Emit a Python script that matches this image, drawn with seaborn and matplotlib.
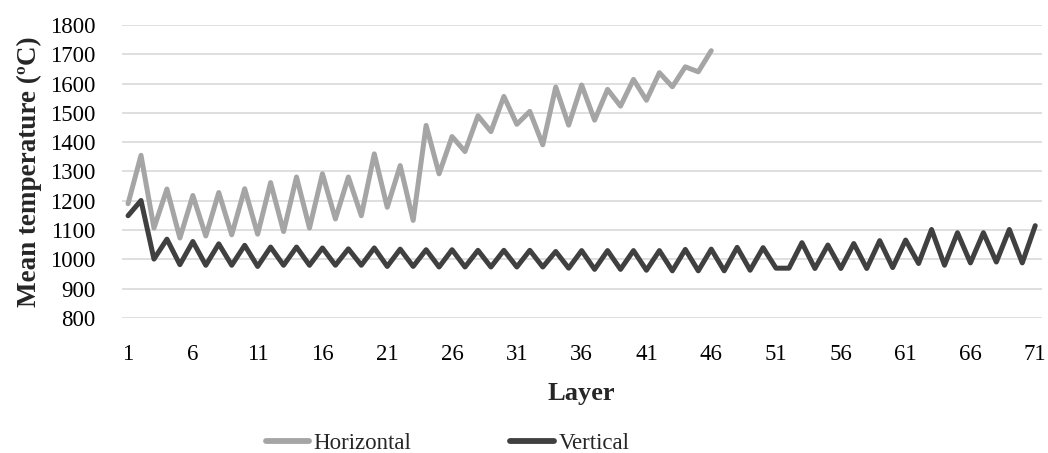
import numpy as np
import pandas as pd
import matplotlib
matplotlib.use("Agg")
import matplotlib.pyplot as plt
import seaborn as sns

# Mean temperature per deposited layer for the two build strategies
horizontal = [1190, 1355, 1107, 1240, 1073, 1218, 1080, 1228, 1084, 1241,
              1086, 1262, 1095, 1281, 1107, 1292, 1138, 1281, 1149, 1360,
              1178, 1320, 1133, 1457, 1292, 1419, 1368, 1490, 1436, 1556,
              1461, 1505, 1391, 1588, 1458, 1595, 1475, 1580, 1523, 1614,
              1543, 1637, 1589, 1657, 1640, 1712]
vertical = [1149, 1201, 1001, 1069, 982, 1061, 980, 1053, 980, 1048,
            976, 1042, 980, 1042, 980, 1039, 980, 1036, 980, 1039,
            976, 1035, 976, 1033, 974, 1033, 974, 1031, 974, 1031,
            974, 1031, 974, 1027, 970, 1030, 966, 1030, 966, 1030,
            963, 1030, 961, 1034, 961, 1035, 961, 1041, 963, 1040,
            970, 970, 1057, 969, 1049, 969, 1054, 969, 1064, 972,
            1066, 986, 1102, 980, 1091, 988, 1091, 991, 1102, 988, 1115]
series_names = ["Horizontal", "Vertical"]
series_colors = ["#A5A5A5", "#404040"]
x_ticks = list(range(1, 72, 5))
y_ticks = list(range(800, 1801, 100))

df = pd.concat([
    pd.DataFrame({"Layer": np.arange(1, len(horizontal) + 1),
                  "Temperature": horizontal, "Series": series_names[0]}),
    pd.DataFrame({"Layer": np.arange(1, len(vertical) + 1),
                  "Temperature": vertical, "Series": series_names[1]}),
])

sns.set_theme(style="white")
plt.rcParams["font.family"] = ["Liberation Serif", "DejaVu Serif"]
fs = 16.5

fig = plt.figure(figsize=(10.48, 4.53), dpi=100)
ax = fig.add_axes([0.116, 0.298, 0.878, 0.647])

sns.lineplot(data=df, x="Layer", y="Temperature", hue="Series",
             palette=dict(zip(series_names, series_colors)),
             linewidth=3.6, ax=ax, legend=False, zorder=3)
for line in ax.get_lines():
    line.set_solid_capstyle("round")
    line.set_solid_joinstyle("round")

ax.set_xlim(0.5, 71.5)
ax.set_ylim(800, 1800)
ax.set_xticks(x_ticks)
ax.set_yticks(y_ticks)
ax.tick_params(axis="both", length=0, labelsize=fs, colors="#000000")
ax.tick_params(axis="x", pad=19)
ax.tick_params(axis="y", pad=18.7)
ax.grid(axis="y", color="#D9D9D9", linewidth=1.2, zorder=0)
ax.grid(axis="x", visible=False)
for s in ax.spines.values():
    s.set_visible(False)

ax.set_xlabel("Layer", fontsize=19, fontweight="bold", labelpad=12)
ax.set_ylabel("Mean temperature (ºC)", fontsize=19.5, fontweight="bold",
              labelpad=6)

handles = [plt.Line2D([], [], color=c, linewidth=4.2, solid_capstyle="round")
           for c in series_colors]
fig.legend(handles, series_names, loc="center", bbox_to_anchor=(0.427, 0.02),
           ncol=2, frameon=False, fontsize=fs, handlelength=1.9,
           handletextpad=0.2, columnspacing=4.3)

fig.savefig("out.png", dpi=100)
